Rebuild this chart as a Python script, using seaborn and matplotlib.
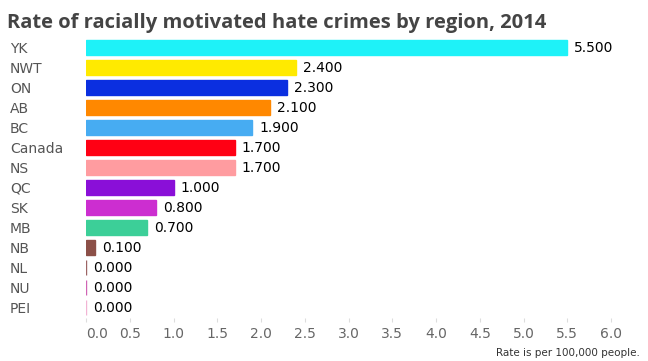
import seaborn as sns
import matplotlib.pyplot as plt

# data
regions = ['YK', 'NWT', 'ON', 'AB', 'BC', 'Canada', 'NS', 'QC', 'SK', 'MB', 'NB', 'NL', 'NU', 'PEI']
rates = [5.5, 2.4, 2.3, 2.1, 1.9, 1.7, 1.7, 1.0, 0.8, 0.7, 0.1, 0.0, 0.0, 0.0]
colors = ['#1ef2f8', '#ffea00', '#0b2fe0', '#ff8800', '#47acf2', '#ff0014', '#ff9ca0',
          '#8a0fd8', '#cc2ed0', '#3ccf98', '#8c5048', '#9c6464', '#d064b4', '#f2b4d4']
xticks = [0.0, 0.5, 1.0, 1.5, 2.0, 2.5, 3.0, 3.5, 4.0, 4.5, 5.0, 5.5, 6.0]

sns.set_style('white')
plt.rcParams['font.family'] = ['DejaVu Sans']

fig = plt.figure(figsize=(6.48, 3.61), dpi=100)
ax = fig.add_axes([86 / 648, 1 - 317.5 / 361, 544 / 648, 280 / 361])

sns.barplot(x=rates, y=regions, hue=regions, palette=colors, legend=False,
            orient='h', width=0.75, ax=ax, linewidth=1, saturation=1)
for bar, c in zip(ax.patches, colors):
    bar.set_edgecolor(c)

for cont in ax.containers:
    ax.bar_label(cont, fmt='%.3f', padding=5, fontsize=10, color='black')

ax.set_xlim(0, 544 / 87.5)
ax.set_ylim(13.5, -0.5)
ax.set_xticks(xticks)
ax.set_xticklabels([f'{t:.1f}' for t in xticks])
ax.get_xticklabels()[0].set_horizontalalignment('left')
ax.tick_params(axis='x', length=3, width=0.8, color='#dddddd', labelsize=10,
               labelcolor='#666666', pad=4, bottom=True)
ax.tick_params(axis='y', length=0, labelsize=10, labelcolor='#555555', pad=0)
for lab in ax.get_yticklabels():
    lab.set_horizontalalignment('left')
    lab.set_x(-76 / 544)
ax.set_xlabel('')
ax.set_ylabel('')
sns.despine(ax=ax, left=True, bottom=True)

fig.text(7 / 648, 1 - 28 / 361, 'Rate of racially motivated hate crimes by region, 2014',
         fontsize=14.5, fontweight='bold', family=['Open Sans', 'DejaVu Sans'],
         color='#444444', va='baseline', ha='left')
fig.text(640 / 648, 1 - 356 / 361, 'Rate is per 100,000 people.',
         fontsize=7.5, color='#333333', va='baseline', ha='right')

fig.savefig('out.png', dpi=100)
